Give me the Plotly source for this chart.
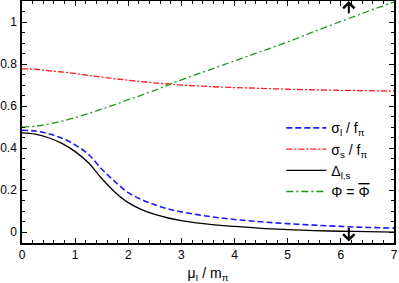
import plotly.graph_objects as go

mu = [0, 0.25, 0.5, 0.75, 1, 1.25, 1.5, 1.75, 2, 2.25, 2.5, 2.75, 3, 3.5, 4, 4.5, 5, 5.5, 6, 6.5, 7]
sigma_l = [0.485, 0.481, 0.468, 0.447, 0.415, 0.37, 0.3, 0.24, 0.188, 0.155, 0.13, 0.11, 0.096, 0.075, 0.06, 0.049, 0.04, 0.033, 0.027, 0.022, 0.019]
sigma_s = [0.777, 0.775, 0.768, 0.762, 0.755, 0.746, 0.738, 0.73, 0.723, 0.716, 0.71, 0.705, 0.70, 0.693, 0.688, 0.684, 0.68, 0.677, 0.675, 0.673, 0.671]
delta = [0.472, 0.466, 0.449, 0.422, 0.383, 0.33, 0.255, 0.19, 0.14, 0.107, 0.084, 0.067, 0.055, 0.038, 0.027, 0.018, 0.012, 0.007, 0.004, 0.002, 0.0]
phi = [0.50, 0.504, 0.515, 0.528, 0.545, 0.564, 0.585, 0.607, 0.63, 0.652, 0.675, 0.7, 0.725, 0.77, 0.815, 0.86, 0.905, 0.955, 1.003, 1.05, 1.095]

arrow_x = [6.15, 6.15]
arrow_tail = [0.028, 1.035]
arrow_head = [-0.045, 1.1]

xticks = [0, 1, 2, 3, 4, 5, 6, 7]
yticks = [0, 0.2, 0.4, 0.6, 0.8, 1.0]
yticklabels = ["0", "0.2", "0.4", "0.6", "0.8", "1"]

FONT = "Liberation Sans, Arial"

fig = go.Figure()
fig.add_trace(go.Scatter(x=mu, y=sigma_l, mode="lines", name="σ<sub>l</sub> / f<sub>π</sub>",
                         line=dict(color="#1a1aff", width=1.6, dash="6px,3px", shape="spline")))
fig.add_trace(go.Scatter(x=mu, y=sigma_s, mode="lines", name="σ<sub>s</sub> / f<sub>π</sub>",
                         line=dict(color="#ff1a1a", width=1.3, dash="6px,2px,2px,2px", shape="spline")))
fig.add_trace(go.Scatter(x=mu, y=delta, mode="lines", name="Δ<sub>l,s</sub>",
                         line=dict(color="black", width=1.3, shape="spline")))
fig.add_trace(go.Scatter(x=mu, y=phi, mode="lines",
                         name="Φ = <span style='text-decoration:overline'>Φ</span>",
                         line=dict(color="#1a961a", width=1.3, dash="7px,3px,2px,3px", shape="spline")))

for xa, t, h in zip(arrow_x, arrow_tail, arrow_head):
    fig.add_annotation(x=xa, y=h, ax=xa, ay=t, xref="x", yref="y", axref="x", ayref="y",
                       text="", showarrow=True, arrowhead=4, arrowsize=1.1, arrowwidth=2, arrowcolor="black")

axis_common = dict(showline=True, linecolor="black", linewidth=1.5, mirror="allticks",
                   ticks="inside", ticklen=5, tickwidth=1.2, tickcolor="black",
                   showgrid=False, zeroline=False, automargin=False,
                   tickfont=dict(family=FONT, size=12, color="black"))

fig.update_xaxes(range=[0, 7], tickvals=xticks,
                 minor=dict(dtick=0.2, ticks="inside", ticklen=3, tickcolor="black", tickwidth=1),
                 title=dict(text="μ<sub>I</sub> / m<sub>π</sub>", font=dict(family=FONT, size=14, color="black")),
                 **axis_common)
fig.update_yaxes(range=[-0.052, 1.1], tickvals=yticks, ticktext=yticklabels, ticklabelstandoff=1,
                 minor=dict(dtick=0.05, tick0=0, ticks="inside", ticklen=3, tickcolor="black", tickwidth=1),
                 **axis_common)

fig.update_layout(width=399, height=283, margin=dict(l=22, r=5, t=1, b=40),
                  plot_bgcolor="white", paper_bgcolor="white",
                  legend=dict(x=0.697, y=0.54, xanchor="left", yanchor="top",
                              bgcolor="rgba(0,0,0,0)", font=dict(family=FONT, size=14, color="black"),
                              tracegroupgap=1, itemwidth=40),
                  showlegend=True)

fig.write_html("out.html", config={"displayModeBar": False},
               post_script="document.body.style.margin='0';document.body.style.padding='0';")
